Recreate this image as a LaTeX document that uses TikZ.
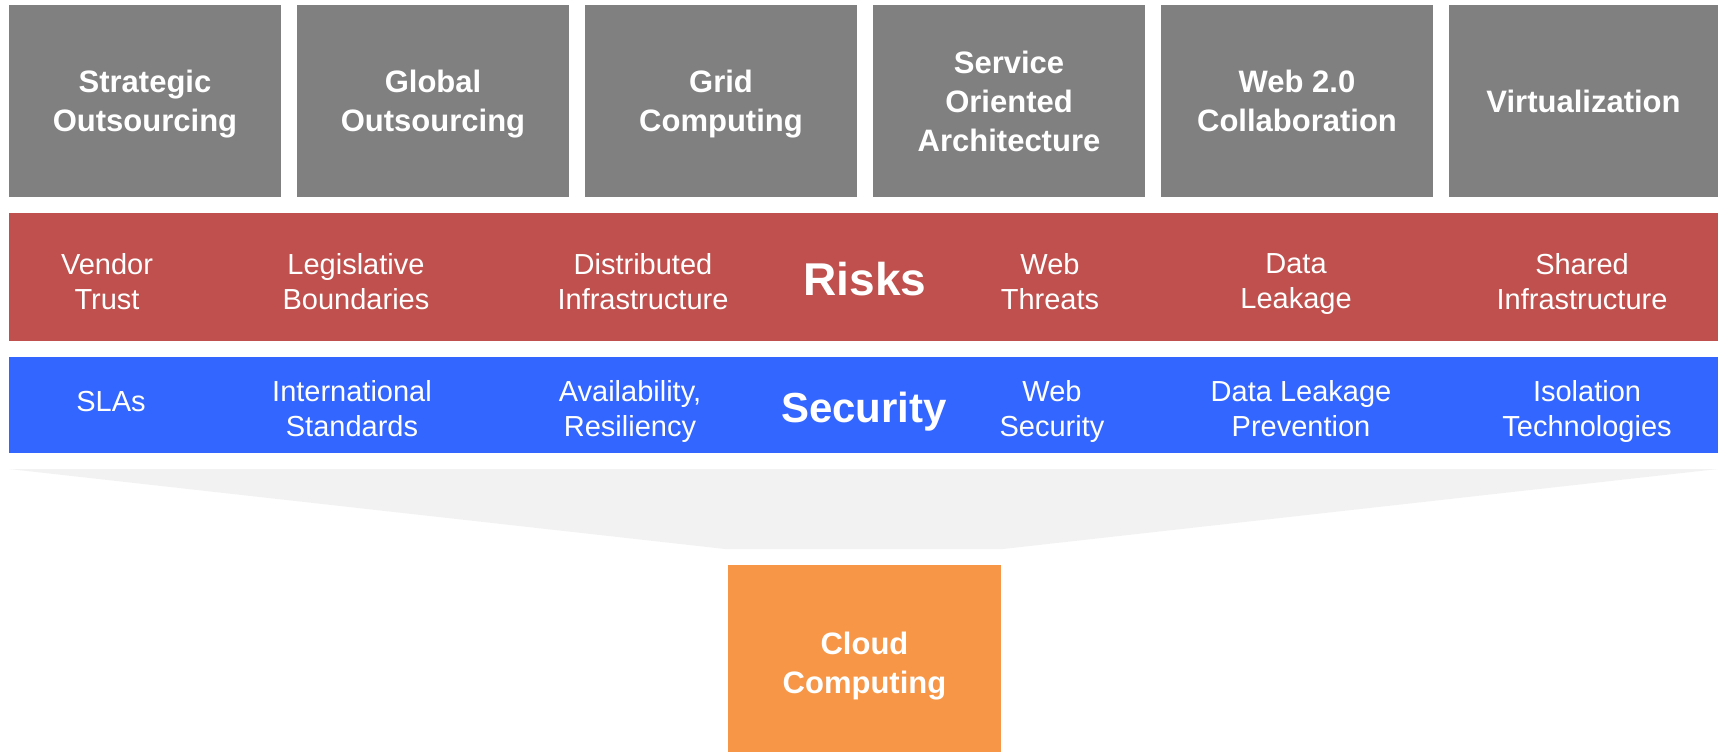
\documentclass[tikz,border=0pt]{standalone}
\usepackage{fontspec}
\setmainfont{Liberation Sans}
\usetikzlibrary{positioning}

\definecolor{trendgray}{HTML}{808080}
\definecolor{riskred}{HTML}{C0504D}
\definecolor{securityblue}{HTML}{3366FF}
\definecolor{cloudorange}{HTML}{F79646}
\definecolor{funnelgray}{HTML}{F2F2F2}

\begin{document}
\begin{tikzpicture}[x=1pt, y=-1pt,
  trend/.style={fill=trendgray, text=white, align=center, inner sep=0pt, text depth=0pt,
    minimum height=192pt, font=\fontsize{31}{39}\selectfont\bfseries},
  band/.style={minimum width=1709pt, inner sep=0pt},
  item/.style={text=white, align=center, inner sep=0pt, text depth=0pt,
    font=\fontsize{29}{35}\selectfont},
  bandtitle/.style={text=white, inner sep=0pt}]

\useasboundingbox (0,0) rectangle (1718,752);

% Trends along the top
\foreach \cx/\w/\name/\txt in {145/272/strategic/{Strategic\\Outsourcing},
    433/272/global/{Global\\Outsourcing}, 721/272/grid/{Grid\\Computing},
    1009/272/soa/{Service\\Oriented\\Architecture},
    1297/272/webtwo/{Web 2.0\\Collaboration}, 1583.5/269/virtual/{Virtualization}} {
  \node[trend, minimum width=\w pt] (\name) at (\cx,101) {\txt};
}

% Risks band
\node[band, fill=riskred, minimum height=128pt] (riskband) at (863.5,277) {};
\node[bandtitle, font=\fontsize{46}{50}\selectfont\bfseries] (risks) at (865,279) {Risks};
\foreach \cx/\name/\txt in {107/vendor/{Vendor\\Trust}, 356/legis/{Legislative\\Boundaries},
    643/distrib/{Distributed\\Infrastructure}, 1050/webthreat/{Web\\Threats},
    1296/leak/{Data\\Leakage}, 1582/shared/{Shared\\Infrastructure}} {
  \node[item] (\name) at (\cx,281) {\txt};
}

% Security band
\node[band, fill=securityblue, minimum height=96pt] (secband) at (863.5,405) {};
\node[bandtitle, font=\fontsize{42}{48}\selectfont\bfseries] (security) at (864,412) {Security};
\node[item] (slas) at (111,401) {SLAs};
\foreach \cx/\name/\txt in {352/intl/{International\\Standards},
    630/avail/{Availability,\\Resiliency}, 1052/websec/{Web\\Security},
    1301/dlp/{Data Leakage\\Prevention}, 1587/isolation/{Isolation\\Technologies}} {
  \node[item] (\name) at (\cx,408) {\txt};
}

% Funnel into the cloud
\fill[funnelgray] (9,469) -- (1718,469) -- (1003,549) -- (725,549) -- cycle;

\node[trend, fill=cloudorange, text height=69pt, minimum width=273pt, minimum height=187pt] (cloud)
  at (864.5,658.5) {Cloud\\Computing};

\end{tikzpicture}
\end{document}
